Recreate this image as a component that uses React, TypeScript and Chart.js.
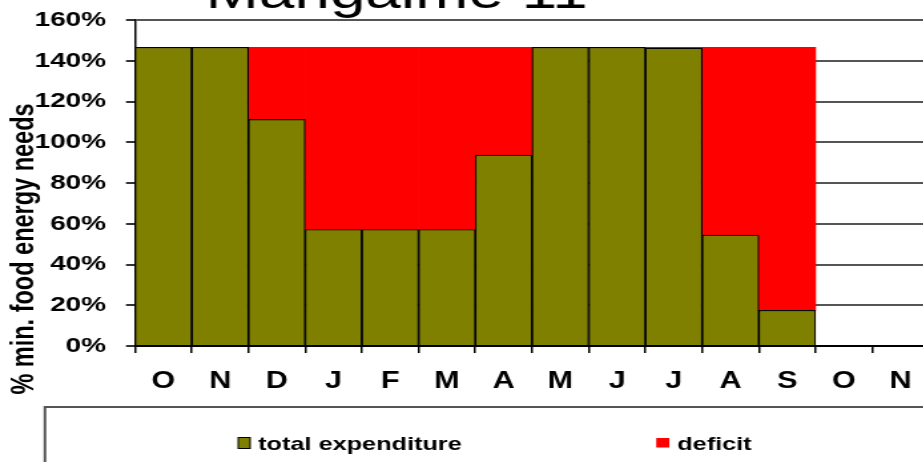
import React, { useEffect, useRef } from "react";
import { Chart, registerables } from "chart.js";

Chart.register(...registerables);

const titleText = "Mangalme 11";
const yAxisTitle = "% min. food energy needs";
const months = ["O", "N", "D", "J", "F", "M", "A", "M", "J", "J", "A", "S", "O", "N"];
const totalExpenditure = [146.6, 146.6, 111.2, 57.2, 57.2, 57.2, 93.7, 146.6, 146.6, 146.2, 54.4, 17.5, null, null];
const deficit = [0, 0, 35.4, 89.4, 89.4, 89.4, 52.9, 0, 0, 0.4, 92.2, 129.1, null, null];
const yMin = 0;
const yMax = 160;
const yStep = 20;

const FONT = "'Liberation Sans', Arial, sans-serif";
const INTERNAL_W = 720;
const CSS_W = 958;
const H = 462;

const decorPlugin = {
  id: "decor",
  afterDraw(chart: any) {
    const ctx = chart.ctx;
    ctx.save();
    // title
    ctx.fillStyle = "#000";
    ctx.font = `48px ${FONT}`;
    ctx.textAlign = "left";
    ctx.textBaseline = "alphabetic";
    ctx.fillText(titleText, 154.5, 8);

    // y axis title
    ctx.save();
    ctx.translate(24.8, 249);
    ctx.rotate(-Math.PI / 2);
    ctx.font = `bold 23.5px ${FONT}`;
    ctx.textAlign = "center";
    ctx.textBaseline = "alphabetic";
    ctx.fillText(yAxisTitle, 0, 0);
    ctx.restore();

    // legend frame
    ctx.strokeStyle = "#555";
    ctx.lineWidth = 2;
    ctx.strokeRect(33.8, 407, 800, 200);

    const ds = chart.data.datasets;
    ctx.font = `bold 19px ${FONT}`;
    ctx.textAlign = "left";
    ctx.textBaseline = "alphabetic";
    // item 1
    ctx.fillStyle = ds[0].backgroundColor;
    ctx.fillRect(179, 437.5, 9, 11);
    ctx.strokeStyle = "#000";
    ctx.lineWidth = 1;
    ctx.strokeRect(179, 437.5, 9, 11);
    ctx.fillStyle = "#000";
    ctx.fillText(ds[0].label, 194, 450);
    // item 2
    ctx.fillStyle = ds[1].backgroundColor;
    ctx.fillRect(493.2, 438, 9.8, 9.5);
    ctx.fillStyle = "#000";
    ctx.fillText(ds[1].label, 509, 450);
    ctx.restore();
  },
};

export default function App() {
  const ref = useRef<HTMLCanvasElement | null>(null);
  useEffect(() => {
    if (!ref.current) return;
    const chart = new Chart(ref.current, {
      type: "bar",
      data: {
        labels: months,
        datasets: [
          {
            label: "total expenditure",
            data: totalExpenditure as any,
            backgroundColor: "#808000",
            borderColor: "#000",
            borderWidth: 1.2,
            barPercentage: 1,
            categoryPercentage: 1,
          },
          {
            label: "deficit",
            data: deficit as any,
            backgroundColor: "#FF0000",
            borderWidth: 0,
            barPercentage: 1,
            categoryPercentage: 1,
          },
        ],
      },
      options: {
        responsive: false,
        animation: false,
        devicePixelRatio: 1,
        layout: { padding: { top: 20, right: 21.8, bottom: 0, left: 0 } },
        plugins: {
          legend: { display: false },
          tooltip: { enabled: false },
          title: { display: false },
        },
        scales: {
          x: {
            stacked: true,
            offset: true,
            grid: {
              display: true,
              drawOnChartArea: false,
              offset: true,
              tickLength: 7,
              color: "#000",
              lineWidth: 1.5,
            },
            border: { display: true, color: "#000", width: 2 },
            ticks: {
              font: { family: FONT, size: 23, weight: "bold" },
              color: "#000",
              padding: 15,
              maxRotation: 0,
              autoSkip: false,
            },
            afterFit: (s: any) => {
              s.height = 116;
              s.paddingLeft = 0;
              s.paddingRight = 0;
            },
          },
          y: {
            stacked: true,
            min: yMin,
            max: yMax,
            ticks: {
              stepSize: yStep,
              callback: (v: any) => v + "%",
              font: { family: FONT, size: 21, weight: "bold" },
              color: "#000",
              padding: 15,
            },
            grid: { color: "#555", lineWidth: 2, tickLength: 6.8, tickColor: "#333" },
            border: { display: true, color: "#000", width: 1.5 },
            afterFit: (s: any) => {
              s.width = 101.5;
              s.paddingTop = 0;
              s.paddingBottom = 0;
            },
          },
        },
      } as any,
      plugins: [decorPlugin],
    });
    return () => chart.destroy();
  }, []);

  return (
    <div
      style={{
        position: "fixed",
        left: 0,
        top: 0,
        width: 923,
        height: H,
        overflow: "hidden",
        background: "#fff",
      }}
    >
      <canvas
        ref={ref}
        width={INTERNAL_W}
        height={H}
        style={{ width: `${CSS_W}px`, height: `${H}px`, display: "block" }}
      />
    </div>
  );
}
